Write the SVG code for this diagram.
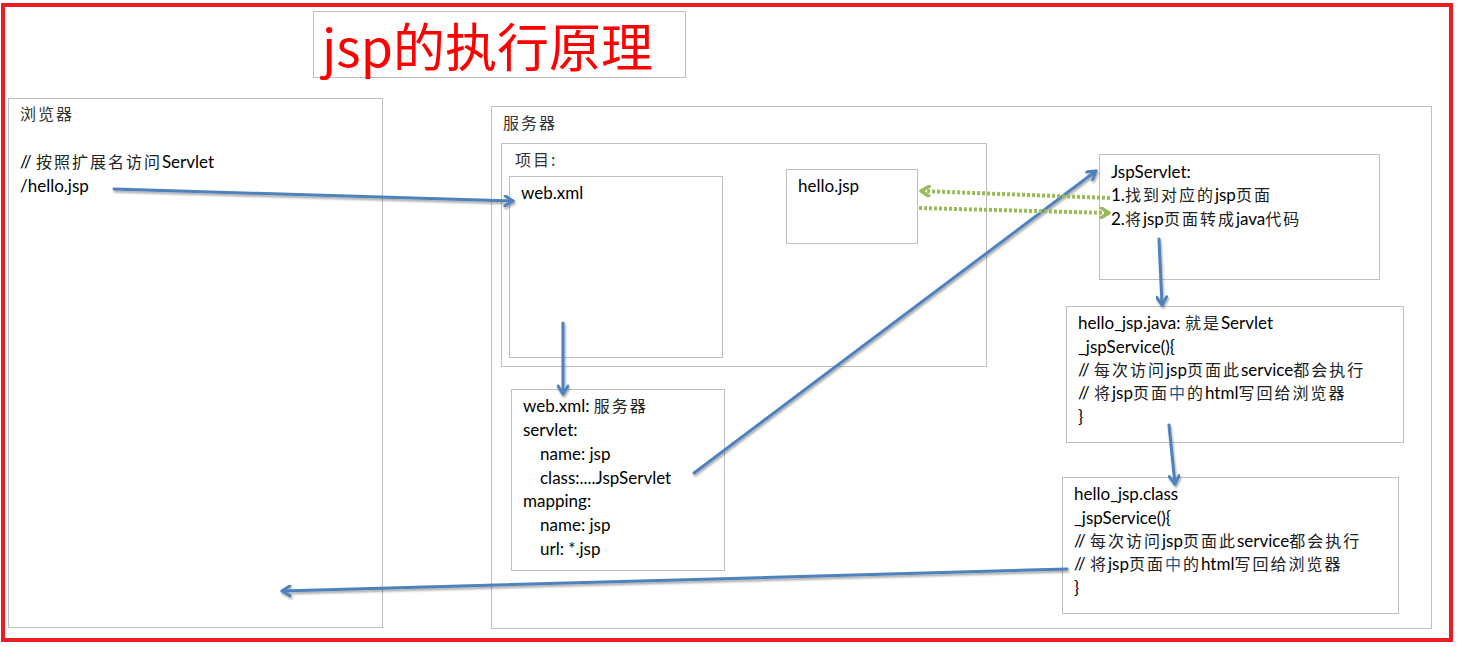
<svg xmlns="http://www.w3.org/2000/svg" width="1459" height="647" viewBox="0 0 1459 647">
<style>
.box{fill:#fff;stroke:#bfbfbf;stroke-width:1}
.t{font-family:Lato,"Liberation Sans","Noto Sans CJK SC",sans-serif;font-size:17px;fill:#000}
.c{font-family:"Noto Sans CJK SC",sans-serif;font-size:16px;letter-spacing:2px;fill:#222}
.lbl{font-family:"Noto Sans CJK SC",sans-serif;font-size:16px;letter-spacing:2px;fill:#333}
.blue{fill:none;stroke:#4f81bd;stroke-width:3;stroke-linecap:round;marker-end:url(#ab);filter:url(#sh)}
.green{fill:none;stroke:#9bbb59;stroke-width:4;stroke-dasharray:3 2;marker-end:url(#ag)}
.zh{fill:#1d5b8f}
</style>
<defs>
<filter id="sh" filterUnits="userSpaceOnUse" x="0" y="0" width="1459" height="647">
<feDropShadow dx="1" dy="2" stdDeviation="1.2" flood-color="#000" flood-opacity="0.35"/>
</filter>
<marker id="ab" viewBox="0 0 12 12" refX="10" refY="6" markerWidth="12" markerHeight="12" markerUnits="userSpaceOnUse" orient="auto">
<path d="M2,1 L10,6 L2,11" fill="none" stroke="#4f81bd" stroke-width="3" stroke-linecap="round" stroke-linejoin="round"/>
</marker>
<marker id="ag" viewBox="0 0 12 12" refX="10" refY="6" markerWidth="12" markerHeight="12" markerUnits="userSpaceOnUse" orient="auto">
<path d="M2,1 L10,6 L2,11" fill="none" stroke="#9bbb59" stroke-width="3.5" stroke-linecap="round" stroke-linejoin="round"/>
</marker>
</defs>
<rect x="0" y="0" width="1459" height="647" fill="#fff"/>
<rect x="3" y="5" width="1448" height="635" fill="none" stroke="#ed1c24" stroke-width="4"/>

<g id="title">
<rect class="box" x="313.5" y="11.5" width="372" height="66"/>
<text x="322" y="67" font-family="'Noto Sans CJK SC',sans-serif" font-size="52" fill="#ff0000">jsp的执行原理</text>
</g>

<g id="browser">
<rect class="box" x="8.5" y="98.5" width="374" height="529"/>
<text class="lbl" x="20" y="120">浏览器</text>
<text class="t" x="20" y="168">// <tspan class="c">按照扩展名访问</tspan>Servlet</text>
<text class="t" x="20" y="192">/hello.jsp</text>
</g>

<g id="server">
<rect class="box" x="491.5" y="106.5" width="940" height="522"/>
<text class="lbl" x="503" y="129">服务器</text>
</g>

<g id="project">
<rect class="box" x="501.5" y="143.5" width="485" height="223"/>
<text class="lbl" x="515" y="166">项目:</text>
</g>

<g id="webxml">
<rect class="box" x="509.5" y="176.5" width="213" height="181"/>
<text class="t" x="521" y="199">web.xml</text>
</g>

<g id="hellojsp">
<rect class="box" x="786.5" y="169.5" width="131" height="74"/>
<text class="t" x="798" y="192">hello.jsp</text>
</g>

<g id="jspservlet">
<rect class="box" x="1099.5" y="154.5" width="280" height="125"/>
<text class="t" x="1111" y="178">JspServlet:</text>
<text class="t" x="1111" y="201">1.<tspan class="c">找到对应的</tspan>jsp<tspan class="c">页面</tspan></text>
<text class="t" x="1111" y="225">2.<tspan class="c">将</tspan>jsp<tspan class="c">页面转成</tspan>java<tspan class="c">代码</tspan></text>
</g>

<g id="hellojava">
<rect class="box" x="1066.5" y="306.5" width="337" height="136"/>
<text class="t" x="1078" y="329">hello_jsp.java: <tspan class="c">就是</tspan>Servlet</text>
<text class="t" x="1078" y="353">_jspService(){</text>
<text class="t" x="1078" y="376">// <tspan class="c">每次访问</tspan>jsp<tspan class="c">页面此</tspan>service<tspan class="c">都会执行</tspan></text>
<text class="t" x="1078" y="399">// <tspan class="c">将</tspan>jsp<tspan class="c">页面<tspan class="zh">中</tspan>的</tspan>html<tspan class="c">写回给浏览器</tspan></text>
<text class="t" x="1078" y="423">}</text>
</g>

<g id="helloclass">
<rect class="box" x="1062.5" y="477.5" width="336" height="136"/>
<text class="t" x="1074" y="500">hello_jsp.class</text>
<text class="t" x="1074" y="524">_jspService(){</text>
<text class="t" x="1074" y="547">// <tspan class="c">每次访问</tspan>jsp<tspan class="c">页面此</tspan>service<tspan class="c">都会执行</tspan></text>
<text class="t" x="1074" y="570">// <tspan class="c">将</tspan>jsp<tspan class="c">页面<tspan class="zh">中</tspan>的</tspan>html<tspan class="c">写回给浏览器</tspan></text>
<text class="t" x="1074" y="594">}</text>
</g>

<g id="webxmlserver">
<rect class="box" x="511.5" y="389.5" width="213" height="181"/>
<text class="t" x="523" y="412">web.xml: <tspan class="c">服务器</tspan></text>
<text class="t" x="523" y="436">servlet:</text>
<text class="t" x="540" y="460">name: jsp</text>
<text class="t" x="540" y="484">class:....JspServlet</text>
<text class="t" x="523" y="507">mapping:</text>
<text class="t" x="540" y="531">name: jsp</text>
<text class="t" x="540" y="555">url: *.jsp</text>
</g>

<g id="connectors">
<line class="blue" x1="114" y1="189" x2="513" y2="201"/>
<line class="blue" x1="563" y1="323" x2="563" y2="394"/>
<line class="blue" x1="694" y1="473" x2="1096" y2="171"/>
<line class="green" x1="1110" y1="198" x2="921" y2="191"/>
<line class="green" x1="919" y1="208" x2="1109" y2="213"/>
<line class="blue" x1="1159" y1="239" x2="1162" y2="305"/>
<line class="blue" x1="1169" y1="425" x2="1175" y2="484"/>
<line class="blue" x1="1067" y1="569" x2="282" y2="591"/>
</g>
</svg>
